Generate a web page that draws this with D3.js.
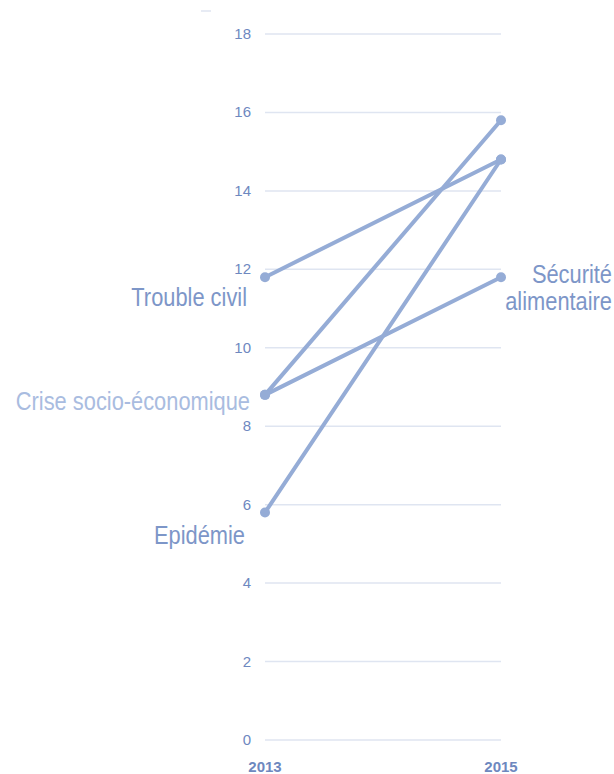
<!DOCTYPE html>
<html>
<head>
<meta charset="utf-8">
<script src="https://cdn.jsdelivr.net/npm/d3@7"></script>
<style>
    body { margin: 0; background: #fff; }
    svg text { font-family: "Liberation Sans", Arial, sans-serif; }
    .grid line { stroke: #dfe5f1; stroke-width: 1.5; }
    .tick-label { fill: #6e88bf; font-size: 15px; }
    .year { fill: #6e88bf; font-size: 15px; font-weight: bold; }
    .series { stroke: #95acd6; stroke-width: 4; fill: none; stroke-linecap: round; }
    .dot { fill: #95acd6; }
    .label { fill: #7d96c8; font-size: 26px; }
    .label.light { fill: #a9bce0; }
</style>
</head>
<body>
<svg id="view" width="614" height="774"></svg>
<script>
const years = ['2013', '2015'];
const yTicks = [0, 2, 4, 6, 8, 10, 12, 14, 16, 18];

const seriesNames = ['Trouble civil', 'Crise socio-économique', 'Sécurité alimentaire', 'Epidémie'];
const values2013 = [11.8, 8.8, 8.8, 5.8];
const values2015 = [14.8, 15.8, 11.8, 14.8];

function init() {
    var svg = d3.select('svg#view');

    var x = d3.scalePoint()
        .domain(years)
        .range([265, 501]);
    var y = d3.scaleLinear()
        .domain([0, 18])
        .range([740, 34]);

    // small dash at top
    svg.append('line')
        .attr('x1', 201).attr('x2', 211)
        .attr('y1', 11).attr('y2', 11)
        .attr('stroke', '#dfe5f1')
        .attr('stroke-width', 1.5);

    // gridlines
    svg.append('g')
        .attr('class', 'grid')
        .selectAll('line')
        .data(yTicks)
        .enter()
        .append('line')
        .attr('x1', x('2013'))
        .attr('x2', x('2015'))
        .attr('y1', function(d) { return y(d); })
        .attr('y2', function(d) { return y(d); });

    svg.append('g')
        .selectAll('text')
        .data(yTicks)
        .enter()
        .append('text')
        .attr('class', 'tick-label')
        .attr('x', 251)
        .attr('y', function(d) { return y(d) + 5; })
        .attr('text-anchor', 'end')
        .text(function(d) { return d; });

    svg.append('g')
        .selectAll('text')
        .data(years)
        .enter()
        .append('text')
        .attr('class', 'year')
        .attr('x', function(d) { return x(d); })
        .attr('y', 772)
        .attr('text-anchor', 'middle')
        .text(function(d) { return d; });

    var rows = seriesNames.map(function(name, i) {
        return { name: name, a: values2013[i], b: values2015[i] };
    });

    var g = svg.append('g');
    g.selectAll('line.series')
        .data(rows)
        .enter()
        .append('line')
        .attr('class', 'series')
        .attr('x1', x('2013'))
        .attr('y1', function(d) { return y(d.a); })
        .attr('x2', x('2015'))
        .attr('y2', function(d) { return y(d.b); });

    rows.forEach(function(d) {
        g.append('circle').attr('class', 'dot').attr('r', 5)
            .attr('cx', x('2013')).attr('cy', y(d.a));
        g.append('circle').attr('class', 'dot').attr('r', 5)
            .attr('cx', x('2015')).attr('cy', y(d.b));
    });

    // labels (narrowed to mimic a condensed face)
    const SX = 0.84;
    function label(cls, tx, ty, lines) {
        var t = svg.append('text')
            .attr('class', cls)
            .attr('text-anchor', 'end')
            .attr('transform', 'translate(' + tx + ',' + ty + ') scale(' + SX + ',1)');
        lines.forEach(function(s, i) {
            t.append('tspan').attr('x', 0).attr('y', i * 27).text(s);
        });
    }
    label('label', 247, y(values2013[0]) + 29, [seriesNames[0]]);
    label('label light', 250, y(values2013[1]) + 15, [seriesNames[1]]);
    label('label', 245, y(values2013[3]) + 31, [seriesNames[3]]);
    label('label', 612, y(values2015[2]) + 6, ['Sécurité', 'alimentaire']);
}

init();
</script>
</body>
</html>
